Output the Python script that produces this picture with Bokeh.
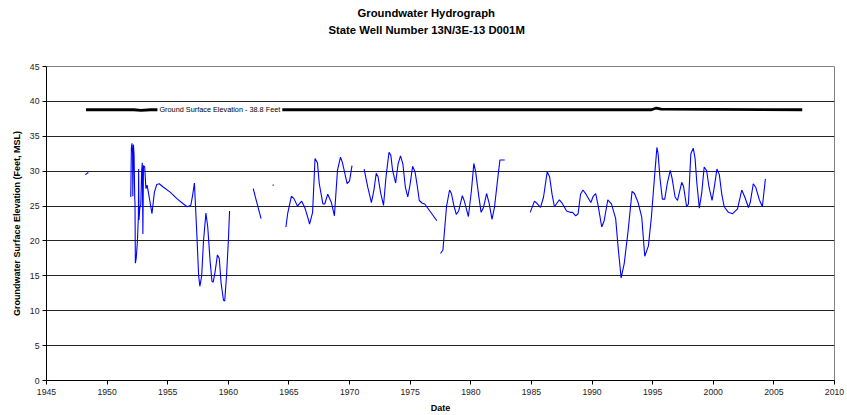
import math
from bokeh.plotting import figure
from bokeh.models import Range1d, FixedTicker, Label, Title
from bokeh.embed import file_html
from bokeh.resources import INLINE

NaN = float("nan")

title_line1 = "Groundwater Hydrograph"
title_line2 = "State Well Number 13N/3E-13 D001M"
x_label = "Date"
y_label = "Groundwater Surface Elevation (Feet, MSL)"
ground_label = "Ground Surface Elevation - 38.8 Feet"

x_ticks = [1945, 1950, 1955, 1960, 1965, 1970, 1975, 1980, 1985, 1990, 1995, 2000, 2005, 2010]
y_ticks = [0, 5, 10, 15, 20, 25, 30, 35, 40, 45]

# Ground surface elevation series
gs_years = [1948.26, 1952.2, 1952.8, 1953.6, 1994.9, 1995.3, 1995.7, 2007.34]
gs_elev = [38.8, 38.8, 38.7, 38.8, 38.8, 39.05, 38.9, 38.8]

# Groundwater elevation series (NaN = gap between measurement periods)
gw_years = [
    1948.2, 1948.45, NaN,
    1951.95, 1952.0, 1952.05, 1952.1, 1952.12, 1952.17, 1952.22, 1952.28, 1952.3,
    1952.33, 1952.4, 1952.5, 1952.58, 1952.6, 1952.63, 1952.7, 1952.78, 1952.85,
    1952.9, 1952.95, 1953.0, 1953.1, 1953.2, 1953.3, 1953.45, 1953.7, 1953.9,
    1954.1, 1954.3, 1954.65, 1955.2, 1955.8, 1956.3, 1956.6, 1956.9, 1957.05,
    1957.2, 1957.4, 1957.55, 1957.65, 1957.8, 1957.95, 1958.15, 1958.3, 1958.5,
    1958.65, 1958.75, 1958.9, 1959.1, 1959.25, 1959.4, 1959.6, 1959.7, 1959.85,
    1960.0, 1960.1, NaN,
    1962.05, 1962.35, 1962.7, NaN,
    1963.65, 1963.75, NaN,
    1964.75, 1964.9, 1965.2, 1965.4, 1965.7, 1966.05, 1966.3, 1966.55, 1966.7,
    1966.95, 1967.15, 1967.35, 1967.5, 1967.8, 1967.95, 1968.2, 1968.5, 1968.75,
    1969.0, 1969.25, 1969.4, 1969.8, 1970.0, 1970.2, NaN,
    1971.2, 1971.5, 1971.8, 1972.0, 1972.2, 1972.35, 1972.55, 1972.8, 1973.0,
    1973.25, 1973.4, 1973.55, 1973.8, 1974.0, 1974.2, 1974.4, 1974.6, 1974.8,
    1975.0, 1975.2, 1975.4, 1975.6, 1975.75, 1976.0, 1976.2, 1977.2, NaN,
    1977.5, 1977.7, 1978.0, 1978.25, 1978.4, 1978.6, 1978.8, 1979.0, 1979.3,
    1979.45, 1979.8, 1980.05, 1980.25, 1980.4, 1980.65, 1980.85, 1981.05, 1981.3,
    1981.5, 1981.75, 1981.95, 1982.2, 1982.4, 1982.8, NaN,
    1984.9, 1985.25, 1985.45, 1985.75, 1986.0, 1986.3, 1986.5, 1986.7, 1986.9,
    1987.3, 1987.5, 1987.9, 1988.2, 1988.4, 1988.65, 1988.85, 1989.05, 1989.25,
    1989.5, 1989.9, 1990.1, 1990.3, 1990.5, 1990.8, 1991.0, 1991.3, 1991.6,
    1991.95, 1992.15, 1992.4, 1992.65, 1992.98, 1993.3, 1993.5, 1993.8, 1994.1,
    1994.35, 1994.65, 1994.9, 1995.15, 1995.35, 1995.45, 1995.6, 1995.8, 1996.0,
    1996.2, 1996.45, 1996.6, 1996.85, 1997.05, 1997.4, 1997.55, 1997.8, 1997.95,
    1998.15, 1998.35, 1998.5, 1998.65, 1998.85, 1999.05, 1999.25, 1999.45, 1999.65,
    1999.9, 2000.1, 2000.3, 2000.5, 2000.7, 2000.9, 2001.25, 2001.6, 2002.0,
    2002.35, 2002.6, 2002.9, 2003.05, 2003.3, 2003.5, 2003.8, 2004.05, 2004.3,
]
gw_elev = [
    29.5, 29.8, NaN,
    26.3, 33.2, 34.0, 32.6, 26.4, 33.8, 32.5, 26.0, 25.5,
    16.8, 17.5, 20.0, 23.6, 30.3, 23.0, 24.8, 25.2, 30.1,
    31.2, 21.0, 30.8, 30.6, 27.5, 28.0, 26.5, 23.9, 27.0,
    28.1, 28.2, 27.7, 27.0, 26.0, 25.3, 24.9, 25.1, 26.5,
    28.3, 21.0, 15.0, 13.5, 15.0, 20.0, 24.0, 22.0, 17.0,
    14.2, 14.1, 15.5, 18.0, 17.5, 14.0, 11.5, 11.4, 15.0,
    20.0, 24.3, NaN,
    27.5, 25.5, 23.2, NaN,
    28.0, 28.0, NaN,
    22.0, 24.0, 26.4, 26.1, 25.0, 25.7, 24.8, 23.4, 22.4,
    24.1, 31.8, 31.2, 28.2, 25.3, 25.3, 26.7, 25.5, 23.6,
    30.1, 32.0, 31.3, 28.2, 28.6, 30.8, NaN,
    30.3, 27.7, 25.5, 27.2, 29.7, 29.2, 27.0, 25.1, 29.1,
    32.7, 32.3, 30.1, 28.3, 31.0, 32.2, 31.0, 27.7, 26.3,
    28.2, 30.7, 29.9, 27.7, 25.8, 25.4, 25.3, 22.9, NaN,
    18.2, 18.7, 25.0, 27.3, 26.8, 25.1, 23.8, 24.3, 26.5,
    25.8, 23.5, 27.2, 31.1, 29.9, 26.5, 24.1, 24.8, 26.8,
    25.5, 23.1, 24.8, 28.6, 31.6, 31.6, NaN,
    24.1, 25.7, 25.4, 24.8, 26.3, 29.9, 29.2, 26.7, 24.9,
    25.9, 25.5, 24.3, 24.1, 24.1, 23.6, 23.9, 26.7, 27.3,
    26.7, 25.5, 26.4, 26.8, 25.1, 22.0, 22.9, 25.9, 25.3,
    23.2, 19.1, 14.7, 16.7, 21.5, 27.1, 26.8, 25.5, 23.4,
    17.8, 19.3, 23.5, 29.1, 33.4, 32.5, 29.1, 26.0, 26.0,
    28.2, 30.1, 29.0, 26.3, 25.8, 28.4, 27.8, 24.9, 25.3,
    32.5, 33.3, 31.8, 28.2, 24.7, 26.9, 30.6, 30.1, 27.7,
    25.8, 27.9, 30.3, 29.5, 26.7, 24.9, 24.1, 23.9, 24.6,
    27.3, 26.3, 24.8, 25.5, 28.2, 27.7, 25.9, 24.9, 28.9,
]

FONT = "Liberation Sans"

p = figure(
    width=847, height=415,
    x_range=Range1d(1945, 2010), y_range=Range1d(0, 45),
    output_backend="svg", toolbar_location=None,
    min_border_left=46, min_border_right=13, min_border_top=66, min_border_bottom=34,
    background_fill_color="white", border_fill_color="white",
)

# outer title line
p.title.text = title_line1
p.title.align = "left"
p.title.offset = 311
p.title.standoff = 6
p.title.text_font = FONT
p.title.text_font_size = "11.3px"
p.title.text_font_style = "bold"
p.title.text_color = "black"

# empty spacer between the title block and the plot area (innermost)
p.add_layout(Title(text=" ", standoff=17, text_font=FONT, text_font_size="10px"), "above")

# second title line
p.add_layout(Title(
    text=title_line2, align="left", offset=282, standoff=1,
    text_font=FONT, text_font_size="11.3px", text_font_style="bold", text_color="black",
), "above")

p.outline_line_color = "#808080"
p.outline_line_width = 1

p.xgrid.grid_line_color = None
p.ygrid.grid_line_color = "black"
p.ygrid.grid_line_alpha = 0.85
p.ygrid.grid_line_width = 1
p.ygrid.ticker = FixedTicker(ticks=y_ticks)

for ax in (p.xaxis[0], p.yaxis[0]):
    ax.axis_line_color = "black"
    ax.axis_line_width = 1
    ax.major_tick_line_color = "black"
    ax.major_tick_in = 0
    ax.major_tick_out = 4
    ax.minor_tick_line_color = None
    ax.major_label_text_font = FONT
    ax.major_label_text_font_size = "8.7px"
    ax.major_label_text_color = "#222222"
    ax.major_label_standoff = 3
    ax.axis_label_text_font = FONT
    ax.axis_label_text_font_size = "9px"
    ax.axis_label_text_font_style = "bold"
    ax.axis_label_text_color = "black"

p.xaxis.ticker = FixedTicker(ticks=x_ticks)
p.yaxis.ticker = FixedTicker(ticks=y_ticks)
p.xaxis.axis_label = x_label
p.yaxis.axis_label = y_label
p.xaxis.major_label_standoff = 4
p.xaxis.axis_label_standoff = 5
p.yaxis.axis_label_standoff = 5

# ground surface line
p.line(gs_years, gs_elev, line_color="black", line_width=2.8)

# groundwater line
p.line(gw_years, gw_elev, line_color="#0000ff", line_width=1.1)

# ground surface label with white background
p.add_layout(Label(
    x=1959.3, y=38.8, text=ground_label,
    text_font=FONT, text_font_size="7.3px", text_color="black",
    text_align="center", text_baseline="middle",
    background_fill_color="white", padding=2,
))

open("out.html", "w").write(file_html(p, INLINE))
